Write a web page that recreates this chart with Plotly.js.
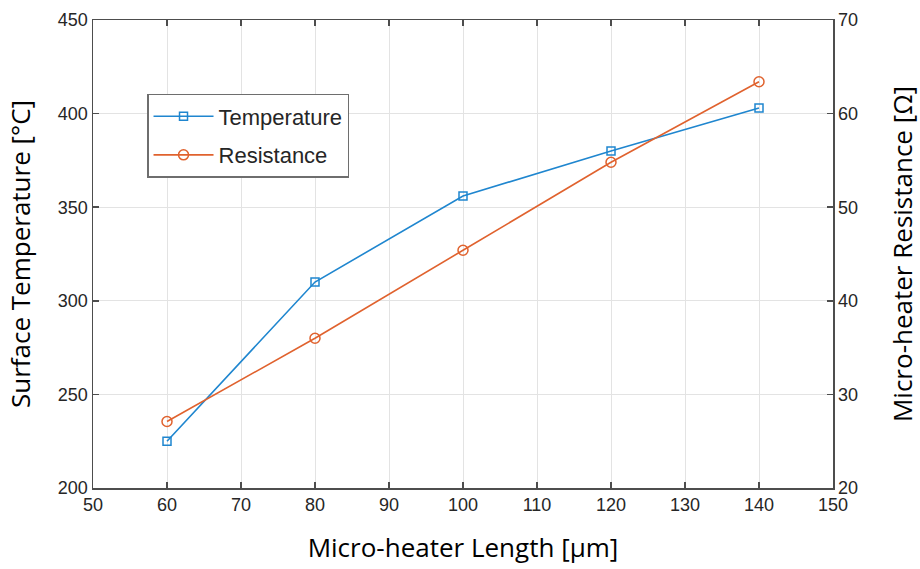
<!DOCTYPE html>
<html>
<head>
<meta charset="utf-8">
<script src="https://cdn.plot.ly/plotly-3.0.1.min.js"></script>
<style>html,body{margin:0;padding:0;background:#fff;}#chart{width:920px;height:569px;}</style>
</head>
<body>
<div id="chart"></div>
<script>
const lengthsUm = [60, 80, 100, 120, 140];
const temperatureC = [225, 310, 356, 380, 403];
const resistanceOhm = [27.1, 36.0, 45.4, 54.8, 63.4];
const xTicks = [50, 60, 70, 80, 90, 100, 110, 120, 130, 140, 150];
const yTicks = [200, 250, 300, 350, 400, 450];
const y2Ticks = [20, 30, 40, 50, 60, 70];

const axisColor = '#4d4d4d';
const tickFont = {family: 'Liberation Sans, Arial, sans-serif', size: 18, color: '#262626'};
const titleFont = {family: 'Open Sans, sans-serif', size: 26, color: '#000'};

const traces = [
  {
    x: lengthsUm, y: temperatureC, name: 'Temperature', type: 'scatter', mode: 'lines+markers',
    legendgroup: 'a',
    line: {color: '#1f86cf', width: 1.6},
    marker: {symbol: 'square-open', size: 8, color: '#1f86cf', line: {width: 1.5}}
  },
  {
    x: lengthsUm, y: resistanceOhm, name: 'Resistance', type: 'scatter', mode: 'lines+markers', yaxis: 'y2',
    legendgroup: 'b',
    line: {color: '#e0622e', width: 1.6},
    marker: {symbol: 'circle-open', size: 10, color: '#e0622e', line: {width: 1.5}}
  }
];

const layout = {
  width: 920, height: 569,
  margin: {l: 93, r: 87, t: 20, b: 81},
  paper_bgcolor: '#fff', plot_bgcolor: '#fff',
  showlegend: true,
  legend: {
    x: 0.073, y: 0.842, xanchor: 'left', yanchor: 'top',
    bgcolor: '#fff', bordercolor: '#6e6e6e', borderwidth: 1.5,
    font: {family: 'Liberation Sans, Arial, sans-serif', size: 22, color: '#262626'},
    itemwidth: 60, tracegroupgap: 7, traceorder: 'grouped'
  },
  xaxis: {
    range: [50, 150], tickvals: xTicks, ticktext: xTicks.map(String),
    showgrid: true, gridcolor: '#e3e3e3', gridwidth: 1,
    showline: true, linecolor: axisColor, linewidth: 1.5, mirror: 'ticks',
    ticks: 'inside', ticklen: 6, tickcolor: axisColor, tickwidth: 1.5,
    tickfont: tickFont, zeroline: false,
    title: {text: 'Micro-heater Length [µm]', font: titleFont, standoff: 24}
  },
  yaxis: {
    range: [200, 450], tickvals: yTicks, ticktext: yTicks.map(String),
    showgrid: true, gridcolor: '#e3e3e3', gridwidth: 1,
    showline: true, linecolor: axisColor, linewidth: 1.5,
    ticks: 'inside', ticklen: 6, tickcolor: axisColor, tickwidth: 1.5,
    tickfont: tickFont, zeroline: false,
    title: {text: 'Surface Temperature [°C]', font: titleFont, standoff: 20}
  },
  yaxis2: {
    range: [20, 70], tickvals: y2Ticks, ticktext: y2Ticks.map(String),
    overlaying: 'y', side: 'right', showgrid: false,
    showline: true, linecolor: axisColor, linewidth: 1.5,
    ticks: 'inside', ticklen: 6, tickcolor: axisColor, tickwidth: 1.5,
    tickfont: tickFont, zeroline: false,
    title: {text: 'Micro-heater Resistance [Ω]', font: titleFont, standoff: 36}
  }
};

Plotly.newPlot('chart', traces, layout, {displayModeBar: false, staticPlot: true});
</script>
</body>
</html>
